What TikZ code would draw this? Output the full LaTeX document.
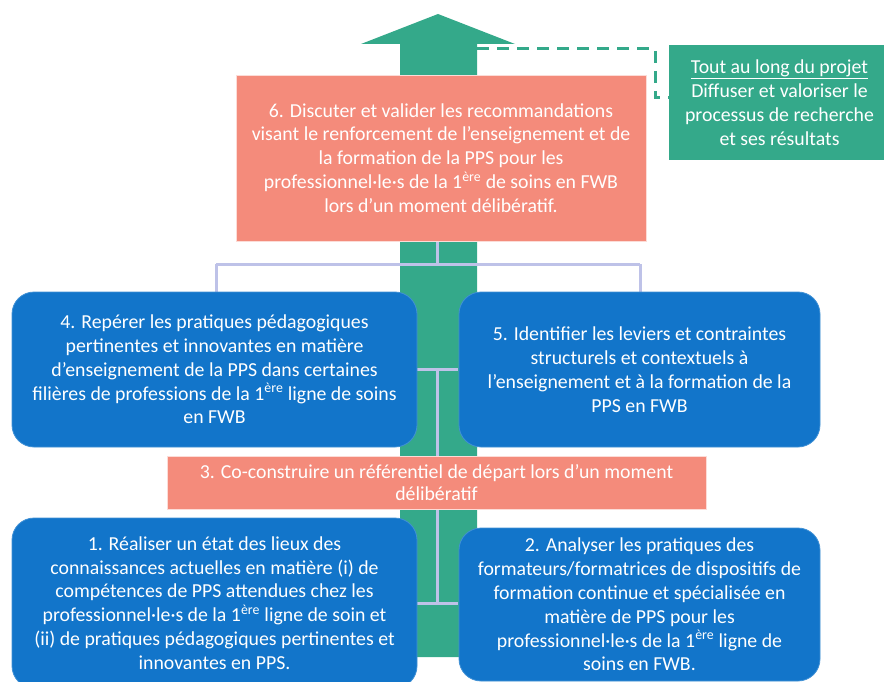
\documentclass[tikz,border=0pt]{standalone}
\usepackage{fontspec}
\setmainfont{Carlito}
\definecolor{arrowgreen}{RGB}{52,169,138}
\definecolor{salmon}{RGB}{244,139,123}
\definecolor{boxblue}{RGB}{18,117,202}
\definecolor{lav}{RGB}{190,194,232}
\tikzset{
  txt/.style={text=white,align=center,font=\fontsize{19.8}{23.8}\selectfont,inner sep=0pt},
  bluebox/.style={fill=boxblue,draw=boxblue!80!white,line width=0.8pt,rounded corners=22pt,txt},
  salbox/.style={fill=salmon,draw=white!70!salmon,line width=0.8pt,txt},
  greenbox/.style={fill=arrowgreen,txt},
  lavline/.style={draw=lav,line width=3pt},
  dashline/.style={draw=arrowgreen,line width=3pt,dash pattern=on 12pt off 8pt}
}
\begin{document}
\begin{tikzpicture}[x=1pt,y=-1pt]
\useasboundingbox (0,0) rectangle (884,682);
% big arrow
\fill[arrowgreen] (400,657) -- (400,44) -- (361,44) -- (438,14) -- (515,44) -- (477,44) -- (477,657) -- cycle;
% coordinates for connectors
\coordinate (top) at (437,240);
\coordinate (hub) at (437,264);
\coordinate (hl) at (216,264);
\coordinate (hr) at (640,264);
\coordinate (m1) at (437,369);
\coordinate (m2) at (437,603);
\coordinate (t1l) at (417,369);
\coordinate (t1r) at (458,369);
\coordinate (t2l) at (417,603);
\coordinate (t2r) at (458,603);
\draw[lavline] (top) -- (hub);
\draw[lavline] (hl) -- (hr);
\draw[lavline] (hl) -- (216,292);
\draw[lavline] (hr) -- (640,292);
\draw[lavline] (m1) -- (m2);
\draw[lavline] (t1l) -- (t1r);
\draw[lavline] (t2l) -- (t2r);
% boxes
\node[salbox,minimum width=410pt,minimum height=166pt] (b6) at (441,158)
 {6. Discuter et valider les recommandations\\
  visant le renforcement de l’enseignement et de\\
  la formation de la PPS pour les\\
  professionnel·le·s de la 1\textsuperscript{ère} de soins en FWB\\
  lors d’un moment délibératif.};
\node[greenbox,minimum width=221pt,minimum height=115pt] (g) at (779.5,102.5)
 {\underline{Tout au long du projet}\\
  Diffuser et valoriser le\\
  processus de recherche\\
  et ses résultats};
\coordinate (d1) at (477,49);
\coordinate (d2) at (655,49);
\coordinate (d3) at (655,98);
\draw[dashline] (d1) -- (d2) -- (d3) -- (d3 -| g.west);
\node[bluebox,minimum width=405pt,minimum height=155pt] (b4) at (214.5,369.5)
 {4. Repérer les pratiques pédagogiques\\
  pertinentes et innovantes en matière\\
  d’enseignement de la PPS dans certaines\\
  filières de professions de la 1\textsuperscript{ère} ligne de soins\\
  en FWB};
\node[bluebox,minimum width=361pt,minimum height=155pt] (b5) at (639.5,369.5)
 {5. Identifier les leviers et contraintes\\
  structurels et contextuels à\\
  l’enseignement et à la formation de la\\
  PPS en FWB};
\node[salbox,minimum width=539pt,minimum height=53pt,font=\fontsize{19.8}{22}\selectfont] (b3) at (436.5,482.5)
 {3. Co-construire un référentiel de départ lors d’un moment\\
  délibératif};
\node[bluebox,minimum width=405pt,minimum height=170pt] (b1) at (214.5,603)
 {1. Réaliser un état des lieux des\\
  connaissances actuelles en matière (i) de\\
  compétences de PPS attendues chez les\\
  professionnel·le·s de la 1\textsuperscript{ère} ligne de soin et\\
  (ii) de pratiques pédagogiques pertinentes et\\
  innovantes en PPS.};
\node[bluebox,minimum width=361pt,minimum height=153pt] (b2) at (639.5,604.5)
 {2. Analyser les pratiques des\\
  formateurs/formatrices de dispositifs de\\
  formation continue et spécialisée en\\
  matière de PPS pour les\\
  professionnel·le·s de la 1\textsuperscript{ère} ligne de\\
  soins en FWB.};
\end{tikzpicture}
\end{document}
